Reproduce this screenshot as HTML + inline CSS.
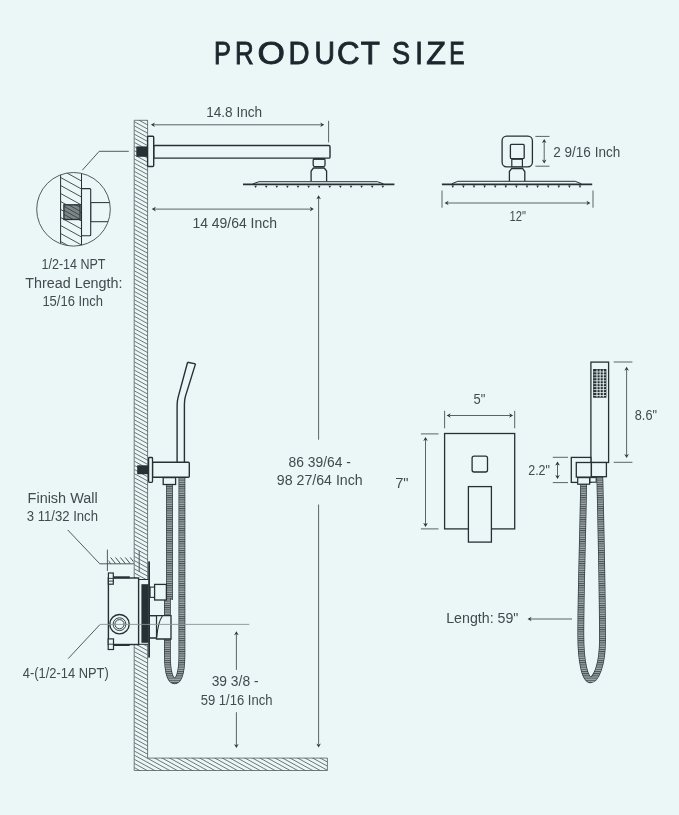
<!DOCTYPE html>
<html><head><meta charset="utf-8"><style>
html,body{margin:0;padding:0;background:#ebf6f6;}
svg{display:block;will-change:transform;}
text{font-family:"Liberation Sans",sans-serif;}
</style></head><body>
<svg width="679" height="815" viewBox="0 0 679 815">
<defs><pattern id="hosepat" patternUnits="userSpaceOnUse" width="10" height="2.2"><rect width="10" height="2.2" fill="#a3abad"/><rect y="0" width="10" height="1" fill="#465054"/></pattern><clipPath id="wallclip"><path d="M134.2,120.3H147.6V758.1H327.4V770.5H134.2Z"/></clipPath><clipPath id="circ"><circle cx="73.5" cy="209.3" r="36.8"/></clipPath><clipPath id="cwall"><rect x="60.6" y="160" width="20.9" height="100"/></clipPath><clipPath id="thr"><rect x="63.9" y="204.8" width="16.2" height="14.7"/></clipPath><clipPath id="fw"><rect x="108.5" y="557.6" width="25" height="6"/></clipPath></defs>
<rect width="679" height="815" fill="#ebf6f6"/>
<path d="M134.2,120.3H147.6V758.1H327.4V770.5H134.2Z" fill="#ebf6f6"/>
<path clip-path="url(#wallclip)" d="M134.3,9.96L327.4,116.16M134.3,14.10L327.4,120.30M134.3,18.24L327.4,124.44M134.3,22.38L327.4,128.58M134.3,26.52L327.4,132.72M134.3,30.66L327.4,136.86M134.3,34.80L327.4,141.00M134.3,38.94L327.4,145.14M134.3,43.08L327.4,149.28M134.3,47.22L327.4,153.42M134.3,51.36L327.4,157.56M134.3,55.50L327.4,161.70M134.3,59.64L327.4,165.84M134.3,63.78L327.4,169.98M134.3,67.92L327.4,174.12M134.3,72.06L327.4,178.26M134.3,76.20L327.4,182.40M134.3,80.34L327.4,186.54M134.3,84.48L327.4,190.68M134.3,88.62L327.4,194.82M134.3,92.76L327.4,198.96M134.3,96.90L327.4,203.10M134.3,101.04L327.4,207.24M134.3,105.18L327.4,211.38M134.3,109.32L327.4,215.52M134.3,113.46L327.4,219.66M134.3,117.60L327.4,223.80M134.3,121.74L327.4,227.94M134.3,125.88L327.4,232.08M134.3,130.02L327.4,236.22M134.3,134.16L327.4,240.36M134.3,138.29L327.4,244.50M134.3,142.43L327.4,248.64M134.3,146.57L327.4,252.78M134.3,150.71L327.4,256.92M134.3,154.85L327.4,261.06M134.3,158.99L327.4,265.20M134.3,163.13L327.4,269.34M134.3,167.27L327.4,273.48M134.3,171.41L327.4,277.62M134.3,175.55L327.4,281.76M134.3,179.69L327.4,285.90M134.3,183.83L327.4,290.04M134.3,187.97L327.4,294.18M134.3,192.11L327.4,298.32M134.3,196.25L327.4,302.46M134.3,200.39L327.4,306.60M134.3,204.53L327.4,310.74M134.3,208.67L327.4,314.88M134.3,212.81L327.4,319.02M134.3,216.95L327.4,323.16M134.3,221.09L327.4,327.30M134.3,225.23L327.4,331.44M134.3,229.37L327.4,335.58M134.3,233.51L327.4,339.72M134.3,237.65L327.4,343.86M134.3,241.79L327.4,348.00M134.3,245.93L327.4,352.14M134.3,250.07L327.4,356.28M134.3,254.21L327.4,360.42M134.3,258.35L327.4,364.56M134.3,262.49L327.4,368.70M134.3,266.63L327.4,372.84M134.3,270.77L327.4,376.98M134.3,274.91L327.4,381.12M134.3,279.05L327.4,385.26M134.3,283.19L327.4,389.40M134.3,287.33L327.4,393.54M134.3,291.47L327.4,397.68M134.3,295.61L327.4,401.82M134.3,299.75L327.4,405.96M134.3,303.89L327.4,410.10M134.3,308.03L327.4,414.24M134.3,312.17L327.4,418.38M134.3,316.31L327.4,422.52M134.3,320.45L327.4,426.66M134.3,324.59L327.4,430.80M134.3,328.73L327.4,434.94M134.3,332.87L327.4,439.08M134.3,337.01L327.4,443.22M134.3,341.15L327.4,447.36M134.3,345.29L327.4,451.50M134.3,349.43L327.4,455.64M134.3,353.57L327.4,459.78M134.3,357.71L327.4,463.92M134.3,361.85L327.4,468.06M134.3,365.99L327.4,472.20M134.3,370.13L327.4,476.34M134.3,374.27L327.4,480.48M134.3,378.41L327.4,484.62M134.3,382.55L327.4,488.76M134.3,386.69L327.4,492.90M134.3,390.83L327.4,497.04M134.3,394.97L327.4,501.18M134.3,399.11L327.4,505.32M134.3,403.25L327.4,509.46M134.3,407.39L327.4,513.60M134.3,411.53L327.4,517.74M134.3,415.67L327.4,521.88M134.3,419.81L327.4,526.02M134.3,423.95L327.4,530.16M134.3,428.09L327.4,534.30M134.3,432.23L327.4,538.44M134.3,436.37L327.4,542.58M134.3,440.51L327.4,546.72M134.3,444.65L327.4,550.86M134.3,448.79L327.4,555.00M134.3,452.93L327.4,559.14M134.3,457.07L327.4,563.28M134.3,461.21L327.4,567.42M134.3,465.35L327.4,571.56M134.3,469.49L327.4,575.70M134.3,473.63L327.4,579.84M134.3,477.77L327.4,583.98M134.3,481.91L327.4,588.12M134.3,486.05L327.4,592.26M134.3,490.19L327.4,596.40M134.3,494.33L327.4,600.54M134.3,498.47L327.4,604.68M134.3,502.61L327.4,608.82M134.3,506.75L327.4,612.96M134.3,510.89L327.4,617.10M134.3,515.03L327.4,621.24M134.3,519.17L327.4,625.38M134.3,523.31L327.4,629.52M134.3,527.45L327.4,633.66M134.3,531.59L327.4,637.80M134.3,535.73L327.4,641.94M134.3,539.87L327.4,646.08M134.3,544.01L327.4,650.22M134.3,548.15L327.4,654.36M134.3,552.29L327.4,658.50M134.3,556.43L327.4,662.64M134.3,560.57L327.4,666.78M134.3,564.71L327.4,670.92M134.3,568.85L327.4,675.06M134.3,572.99L327.4,679.20M134.3,577.13L327.4,683.34M134.3,581.27L327.4,687.48M134.3,585.41L327.4,691.62M134.3,589.55L327.4,695.76M134.3,593.69L327.4,699.90M134.3,597.83L327.4,704.04M134.3,601.97L327.4,708.18M134.3,606.11L327.4,712.32M134.3,610.25L327.4,716.46M134.3,614.39L327.4,720.60M134.3,618.53L327.4,724.74M134.3,622.67L327.4,728.88M134.3,626.81L327.4,733.02M134.3,630.95L327.4,737.16M134.3,635.09L327.4,741.30M134.3,639.23L327.4,745.44M134.3,643.37L327.4,749.58M134.3,647.51L327.4,753.72M134.3,651.65L327.4,757.86M134.3,655.79L327.4,762.00M134.3,659.93L327.4,766.14M134.3,664.07L327.4,770.28M134.3,668.21L327.4,774.42M134.3,672.35L327.4,778.56M134.3,676.49L327.4,782.70M134.3,680.63L327.4,786.84M134.3,684.77L327.4,790.98M134.3,688.91L327.4,795.12M134.3,693.05L327.4,799.26M134.3,697.19L327.4,803.40M134.3,701.33L327.4,807.54M134.3,705.47L327.4,811.68M134.3,709.61L327.4,815.82M134.3,713.75L327.4,819.96M134.3,717.89L327.4,824.10M134.3,722.03L327.4,828.24M134.3,726.17L327.4,832.38M134.3,730.31L327.4,836.52M134.3,734.45L327.4,840.66M134.3,738.59L327.4,844.80M134.3,742.73L327.4,848.94M134.3,746.87L327.4,853.08M134.3,751.01L327.4,857.22M134.3,755.15L327.4,861.36M134.3,759.29L327.4,865.50M134.3,763.43L327.4,869.64M134.3,767.57L327.4,873.78M134.3,771.71L327.4,877.92" stroke="#343d41" stroke-width="0.7" fill="none"/>
<path d="M134.2,120.3H147.6V758.1H327.4V770.5H134.2Z" fill="none" stroke="#4a5356" stroke-width="0.75"/>
<g fill="#1c262d" stroke="#1c262d" stroke-width="0.9"><text transform="translate(214.07,64.2) scale(0.828,1)" font-size="30.6">P</text><text transform="translate(235.12,64.2) scale(0.849,1)" font-size="30.6">R</text><text transform="translate(257.58,64.2) scale(1.151,1)" font-size="30.6">O</text><text transform="translate(288.46,64.2) scale(0.953,1)" font-size="30.6">D</text><text transform="translate(314.60,64.2) scale(0.927,1)" font-size="30.6">U</text><text transform="translate(337.07,64.2) scale(1.020,1)" font-size="30.6">C</text><text transform="translate(360.66,64.2) scale(1.024,1)" font-size="30.6">T</text><text transform="translate(392.06,64.2) scale(0.888,1)" font-size="30.6">S</text><text transform="translate(415.14,64.2) scale(0.898,1)" font-size="30.6">I</text><text transform="translate(426.33,64.2) scale(1.054,1)" font-size="30.6">Z</text><text transform="translate(449.16,64.2) scale(0.753,1)" font-size="30.6">E</text></g>
<rect x="136.3" y="146.4" width="11.1" height="10.4" fill="#263035"/>
<rect x="153.7" y="145.5" width="176.3" height="12.6" rx="1.2" fill="#ebf6f6" stroke="#263035" stroke-width="1.4"/>
<rect x="147.6" y="136.3" width="6.1" height="30.2" rx="1" fill="#ebf6f6" stroke="#263035" stroke-width="1.4"/>
<rect x="313.2" y="158.6" width="11.8" height="8" rx="1.5" fill="#ebf6f6" stroke="#263035" stroke-width="1.3"/>
<rect x="313.6" y="158.1" width="11" height="1.8" fill="#263035"/>
<path d="M311.1,181.2V171L313.5,168H324.2L326.6,171V181.2" fill="#ebf6f6" stroke="#263035" stroke-width="1.3"/>
<path d="M243,184.4H394.4" stroke="#263035" stroke-width="1.8"/><path d="M253,183.8L259,181.7H377.4L383.4,183.8" fill="none" stroke="#263035" stroke-width="1"/><path d="M254.30,185.70000000000002H256.90L255.60,188.0Z" fill="#263035"/><path d="M264.90,185.70000000000002H267.50L266.20,188.0Z" fill="#263035"/><path d="M275.50,185.70000000000002H278.10L276.80,188.0Z" fill="#263035"/><path d="M286.10,185.70000000000002H288.70L287.40,188.0Z" fill="#263035"/><path d="M296.70,185.70000000000002H299.30L298.00,188.0Z" fill="#263035"/><path d="M307.30,185.70000000000002H309.90L308.60,188.0Z" fill="#263035"/><path d="M317.90,185.70000000000002H320.50L319.20,188.0Z" fill="#263035"/><path d="M328.50,185.70000000000002H331.10L329.80,188.0Z" fill="#263035"/><path d="M339.10,185.70000000000002H341.70L340.40,188.0Z" fill="#263035"/><path d="M349.70,185.70000000000002H352.30L351.00,188.0Z" fill="#263035"/><path d="M360.30,185.70000000000002H362.90L361.60,188.0Z" fill="#263035"/><path d="M370.90,185.70000000000002H373.50L372.20,188.0Z" fill="#263035"/><path d="M381.50,185.70000000000002H384.10L382.80,188.0Z" fill="#263035"/>
<path d="M128.8,151.3H99.2L82.3,170.2" fill="none" stroke="#40494d" stroke-width="0.9"/>
<line x1="154" y1="124.8" x2="321.5" y2="124.8" stroke="#40494d" stroke-width="0.85"/>
<path d="M150.90,124.80L154.90,122.50L153.70,124.80L154.90,127.10Z" fill="#2a3337"/>
<path d="M324.20,124.80L320.20,127.10L321.40,124.80L320.20,122.50Z" fill="#2a3337"/>
<line x1="328.6" y1="120.8" x2="328.6" y2="142.4" stroke="#40494d" stroke-width="0.85"/>
<text x="206.2" y="117.1" font-size="13.8" fill="#424a4e" textLength="56.0" lengthAdjust="spacingAndGlyphs" >14.8 Inch</text>
<line x1="155" y1="209.1" x2="310.8" y2="209.1" stroke="#40494d" stroke-width="0.85"/>
<path d="M151.80,209.10L155.80,206.80L154.60,209.10L155.80,211.40Z" fill="#2a3337"/>
<path d="M313.80,209.10L309.80,211.40L311.00,209.10L309.80,206.80Z" fill="#2a3337"/>
<text x="192.4" y="227.7" font-size="13.8" fill="#424a4e" textLength="84.6" lengthAdjust="spacingAndGlyphs" >14 49/64 Inch</text>
<line x1="318.6" y1="198" x2="318.6" y2="439.7" stroke="#40494d" stroke-width="0.85"/>
<path d="M318.60,195.20L320.90,199.20L318.60,198.00L316.30,199.20Z" fill="#2a3337"/>
<line x1="318.6" y1="504.5" x2="318.6" y2="744.5" stroke="#40494d" stroke-width="0.85"/>
<path d="M318.60,747.50L316.30,743.50L318.60,744.70L320.90,743.50Z" fill="#2a3337"/>
<text x="288.6" y="466.5" font-size="13.8" fill="#424a4e" textLength="62.4" lengthAdjust="spacingAndGlyphs" >86 39/64 -</text>
<text x="276.8" y="485.1" font-size="13.8" fill="#424a4e" textLength="85.9" lengthAdjust="spacingAndGlyphs" >98 27/64 Inch</text>
<g clip-path="url(#circ)">
<path clip-path="url(#cwall)" d="M60.6,145.50L81.5,157.00M60.6,153.50L81.5,165.00M60.6,161.50L81.5,173.00M60.6,169.50L81.5,181.00M60.6,177.50L81.5,189.00M60.6,185.50L81.5,197.00M60.6,193.50L81.5,205.00M60.6,201.50L81.5,213.00M60.6,209.50L81.5,221.00M60.6,217.50L81.5,229.00M60.6,225.50L81.5,237.00M60.6,233.50L81.5,245.00M60.6,241.50L81.5,253.00M60.6,249.50L81.5,261.00M60.6,257.50L81.5,269.00" stroke="#343d41" stroke-width="0.9" fill="none"/>
<line x1="60.6" y1="165" x2="60.6" y2="255" stroke="#263035" stroke-width="1"/>
<line x1="81.5" y1="165" x2="81.5" y2="255" stroke="#263035" stroke-width="1"/>
<rect x="90.7" y="202.6" width="30" height="19.1" fill="#ebf6f6" stroke="#263035" stroke-width="1"/>
<rect x="81.5" y="188.6" width="9.2" height="47.1" rx="1" fill="#ebf6f6" stroke="#263035" stroke-width="1.1"/>
<rect x="63.9" y="204.8" width="16.2" height="14.7" fill="#7d8689" stroke="#263035" stroke-width="1.3"/>
<path clip-path="url(#thr)" d="M60.6,184.50L81.5,196.00M60.6,188.50L81.5,200.00M60.6,192.50L81.5,204.00M60.6,196.50L81.5,208.00M60.6,200.50L81.5,212.00M60.6,204.50L81.5,216.00M60.6,208.50L81.5,220.00M60.6,212.50L81.5,224.00M60.6,216.50L81.5,228.00M60.6,220.50L81.5,232.00M60.6,224.50L81.5,236.00M60.6,228.50L81.5,240.00" stroke="#30393d" stroke-width="0.8" fill="none"/>
</g>
<circle cx="73.5" cy="209.3" r="36.8" fill="none" stroke="#40494d" stroke-width="0.9"/>
<text x="41.5" y="269.4" font-size="13.8" fill="#424a4e" textLength="64.0" lengthAdjust="spacingAndGlyphs" >1/2-14 NPT</text>
<text x="25.3" y="288" font-size="13.8" fill="#424a4e" textLength="97.2" lengthAdjust="spacingAndGlyphs" >Thread Length:</text>
<text x="42.4" y="305.7" font-size="13.8" fill="#424a4e" textLength="60.6" lengthAdjust="spacingAndGlyphs" >15/16 Inch</text>
<path d="M187.6,362.2L178.1,397.4Q177.1,401 177.1,405.7V462.2" fill="none" stroke="#263035" stroke-width="1.4"/>
<path d="M195.5,363.9L185.4,396.4Q184.4,400 184.4,404.6V462.2" fill="none" stroke="#263035" stroke-width="1.4"/>
<path d="M187.6,362.2L195.5,363.9" stroke="#263035" stroke-width="1.4"/>
<path d="M169.5,484V600" stroke="#2f393d" stroke-width="6.8" fill="none"/><path d="M169.5,484V600" stroke="url(#hosepat)" stroke-width="5.4" fill="none"/>
<path d="M167.4,598V655C167.4,672 170,680.8 174.6,680.8C179.2,680.8 181.9,672 181.9,655V477" stroke="#2f393d" stroke-width="6.8" fill="none"/><path d="M167.4,598V655C167.4,672 170,680.8 174.6,680.8C179.2,680.8 181.9,672 181.9,655V477" stroke="url(#hosepat)" stroke-width="5.4" fill="none"/>
<rect x="137.2" y="465.3" width="11.4" height="8.9" fill="#263035"/>
<rect x="152.5" y="462.2" width="36.8" height="15.1" rx="1" fill="#ebf6f6" stroke="#263035" stroke-width="1.4"/>
<rect x="148.6" y="457.5" width="3.9" height="24.8" rx="0.8" fill="#ebf6f6" stroke="#263035" stroke-width="1.3"/>
<rect x="163.2" y="477.6" width="12.4" height="6.9" fill="#ebf6f6" stroke="#263035" stroke-width="1.3"/>
<rect x="133.8" y="579.5" width="15" height="64.8" fill="#ebf6f6"/>
<line x1="133.8" y1="579.5" x2="148.3" y2="579.5" stroke="#263035" stroke-width="1"/>
<line x1="133.8" y1="644.3" x2="148.3" y2="644.3" stroke="#263035" stroke-width="1"/>
<rect x="108.4" y="578" width="30.2" height="66.5" fill="#ebf6f6" stroke="#263035" stroke-width="1.4"/>
<line x1="113.3" y1="577.3" x2="129.8" y2="577.3" stroke="#263035" stroke-width="2"/>
<line x1="113.5" y1="645" x2="129.7" y2="645" stroke="#263035" stroke-width="2"/>
<rect x="108.4" y="573" width="4.9" height="11.2" fill="#ebf6f6" stroke="#263035" stroke-width="1.2"/>
<line x1="108.4" y1="578.4" x2="113.3" y2="578.4" stroke="#263035" stroke-width="0.9"/>
<line x1="108.4" y1="581.1" x2="113.3" y2="581.1" stroke="#263035" stroke-width="0.9"/>
<rect x="108.2" y="638.9" width="5.3" height="10.6" fill="#ebf6f6" stroke="#263035" stroke-width="1.2"/>
<line x1="108.2" y1="644.2" x2="113.5" y2="644.2" stroke="#263035" stroke-width="0.9"/>
<circle cx="119.5" cy="624.2" r="9.7" fill="#ebf6f6" stroke="#263035" stroke-width="1.4"/>
<circle cx="119.5" cy="624.2" r="6.4" fill="none" stroke="#263035" stroke-width="0.9"/>
<circle cx="119.5" cy="624.2" r="4.6" fill="none" stroke="#263035" stroke-width="0.9"/>
<rect x="141.4" y="584.2" width="7.2" height="58.6" fill="#263035"/>
<rect x="148.2" y="561.4" width="1.8" height="96.2" fill="#263035"/>
<rect x="150.1" y="587.1" width="4.7" height="10.3" fill="#ebf6f6" stroke="#263035" stroke-width="1.1"/>
<rect x="154.6" y="584.4" width="11.8" height="15.6" fill="#ebf6f6" stroke="#263035" stroke-width="1.3"/>
<path d="M150,615.7H162.5Q164,615.5 171,615.7V639H156.5V638H150" fill="#ebf6f6" stroke="#263035" stroke-width="1.3"/>
<path d="M150.3,615.7H156.5V638" fill="none" stroke="#263035" stroke-width="1.2"/>
<path d="M162.5,615.7Q158,622 156.8,637" fill="none" stroke="#263035" stroke-width="1.1"/>
<line x1="99.6" y1="563.8" x2="134" y2="563.8" stroke="#40494d" stroke-width="0.9"/>
<line x1="107.4" y1="549.6" x2="107.4" y2="571" stroke="#40494d" stroke-width="0.9"/>
<line x1="139.2" y1="550.6" x2="139.2" y2="571.8" stroke="#40494d" stroke-width="0.9"/>
<path clip-path="url(#fw)" d="M100,501.50L140,551.50M100,507.60L140,557.60M100,513.70L140,563.70M100,519.80L140,569.80M100,525.90L140,575.90M100,532.00L140,582.00M100,538.10L140,588.10M100,544.20L140,594.20M100,550.30L140,600.30M100,556.40L140,606.40M100,562.50L140,612.50M100,568.60L140,618.60" stroke="#343d41" stroke-width="0.9" fill="none"/>
<path d="M67.7,529.9L99.6,563.6" stroke="#40494d" stroke-width="0.9"/>
<line x1="99.6" y1="624.4" x2="249.3" y2="624.4" stroke="#8b9396" stroke-width="0.9"/>
<path d="M68.2,658.6L99.6,624.9" stroke="#40494d" stroke-width="0.9"/>
<text x="27.6" y="502.7" font-size="13.8" fill="#424a4e" textLength="70.1" lengthAdjust="spacingAndGlyphs" >Finish Wall</text>
<text x="26.7" y="520.8" font-size="13.8" fill="#424a4e" textLength="71.3" lengthAdjust="spacingAndGlyphs" >3 11/32 Inch</text>
<text x="22.8" y="678" font-size="13.8" fill="#424a4e" textLength="85.9" lengthAdjust="spacingAndGlyphs" >4-(1/2-14 NPT)</text>
<line x1="236.4" y1="634.2" x2="236.4" y2="669.9" stroke="#40494d" stroke-width="0.85"/>
<path d="M236.40,631.20L238.70,635.20L236.40,634.00L234.10,635.20Z" fill="#2a3337"/>
<line x1="236.4" y1="712.2" x2="236.4" y2="745" stroke="#40494d" stroke-width="0.85"/>
<path d="M236.40,748.10L234.10,744.10L236.40,745.30L238.70,744.10Z" fill="#2a3337"/>
<text x="211.7" y="685.9" font-size="13.8" fill="#424a4e" textLength="46.8" lengthAdjust="spacingAndGlyphs" >39 3/8 -</text>
<text x="200.7" y="704.5" font-size="13.8" fill="#424a4e" textLength="71.8" lengthAdjust="spacingAndGlyphs" >59 1/16 Inch</text>
<path d="M509.4,181V171.5L511.5,168.6H522.7L524.8,171.5V181" fill="#ebf6f6" stroke="#263035" stroke-width="1.3"/>
<rect x="502.1" y="136.2" width="30.3" height="30.6" rx="4.5" fill="#ebf6f6" stroke="#263035" stroke-width="1.3"/>
<rect x="511.8" y="159.2" width="10.6" height="7.6" fill="#ebf6f6" stroke="#263035" stroke-width="1.2"/>
<rect x="510.4" y="144.4" width="13.8" height="14.2" rx="1" fill="#ebf6f6" stroke="#263035" stroke-width="1.3"/>
<path d="M441.9,184.3H592.2" stroke="#263035" stroke-width="1.8"/><path d="M451.9,183.70000000000002L457.9,181.3H575.2L581.2,183.70000000000002" fill="none" stroke="#263035" stroke-width="1"/><path d="M451.50,185.60000000000002H454.10L452.80,187.9Z" fill="#263035"/><path d="M462.10,185.60000000000002H464.70L463.40,187.9Z" fill="#263035"/><path d="M472.70,185.60000000000002H475.30L474.00,187.9Z" fill="#263035"/><path d="M483.30,185.60000000000002H485.90L484.60,187.9Z" fill="#263035"/><path d="M493.90,185.60000000000002H496.50L495.20,187.9Z" fill="#263035"/><path d="M504.50,185.60000000000002H507.10L505.80,187.9Z" fill="#263035"/><path d="M515.10,185.60000000000002H517.70L516.40,187.9Z" fill="#263035"/><path d="M525.70,185.60000000000002H528.30L527.00,187.9Z" fill="#263035"/><path d="M536.30,185.60000000000002H538.90L537.60,187.9Z" fill="#263035"/><path d="M546.90,185.60000000000002H549.50L548.20,187.9Z" fill="#263035"/><path d="M557.50,185.60000000000002H560.10L558.80,187.9Z" fill="#263035"/><path d="M568.10,185.60000000000002H570.70L569.40,187.9Z" fill="#263035"/><path d="M578.70,185.60000000000002H581.30L580.00,187.9Z" fill="#263035"/>
<line x1="442" y1="190.5" x2="442" y2="207.7" stroke="#40494d" stroke-width="0.85"/>
<line x1="593" y1="190.5" x2="593" y2="207.7" stroke="#40494d" stroke-width="0.85"/>
<line x1="447.6" y1="203" x2="587.4" y2="203" stroke="#40494d" stroke-width="0.85"/><path d="M444.60,203.00L448.60,200.70L447.40,203.00L448.60,205.30Z" fill="#2a3337"/><path d="M590.40,203.00L586.40,205.30L587.60,203.00L586.40,200.70Z" fill="#2a3337"/>
<text x="509.5" y="221" font-size="13.8" fill="#424a4e" textLength="16.5" lengthAdjust="spacingAndGlyphs" >12"</text>
<line x1="535.4" y1="136.4" x2="549.5" y2="136.4" stroke="#40494d" stroke-width="0.85"/>
<line x1="535.4" y1="166.2" x2="549.5" y2="166.2" stroke="#40494d" stroke-width="0.85"/>
<line x1="544.2" y1="142" x2="544.2" y2="160.5" stroke="#40494d" stroke-width="0.85"/><path d="M544.20,139.00L546.50,143.00L544.20,141.80L541.90,143.00Z" fill="#2a3337"/><path d="M544.20,163.50L541.90,159.50L544.20,160.70L546.50,159.50Z" fill="#2a3337"/>
<text x="553.3" y="156.9" font-size="13.8" fill="#424a4e" textLength="66.9" lengthAdjust="spacingAndGlyphs" >2 9/16 Inch</text>
<rect x="444.6" y="433.5" width="70.1" height="95.4" fill="#ebf6f6" stroke="#263035" stroke-width="1.3"/>
<rect x="472.1" y="456.1" width="15.4" height="15.9" rx="2" fill="#ebf6f6" stroke="#263035" stroke-width="1.3"/>
<rect x="468.4" y="486.6" width="23" height="55.5" fill="#ebf6f6" stroke="#263035" stroke-width="1.3"/>
<line x1="444.6" y1="410.8" x2="444.6" y2="428.3" stroke="#40494d" stroke-width="0.85"/>
<line x1="514.7" y1="410.8" x2="514.7" y2="428.3" stroke="#40494d" stroke-width="0.85"/>
<line x1="449.7" y1="415.5" x2="510.1" y2="415.5" stroke="#40494d" stroke-width="0.85"/><path d="M446.70,415.50L450.70,413.20L449.50,415.50L450.70,417.80Z" fill="#2a3337"/><path d="M513.10,415.50L509.10,417.80L510.30,415.50L509.10,413.20Z" fill="#2a3337"/>
<text x="473.5" y="404" font-size="13.8" fill="#424a4e" textLength="11.8" lengthAdjust="spacingAndGlyphs" >5"</text>
<line x1="420.9" y1="433.9" x2="438.5" y2="433.9" stroke="#40494d" stroke-width="0.85"/>
<line x1="420.9" y1="528.9" x2="438.5" y2="528.9" stroke="#40494d" stroke-width="0.85"/>
<line x1="425.5" y1="440" x2="425.5" y2="523.9" stroke="#40494d" stroke-width="0.85"/><path d="M425.50,437.00L427.80,441.00L425.50,439.80L423.20,441.00Z" fill="#2a3337"/><path d="M425.50,526.90L423.20,522.90L425.50,524.10L427.80,522.90Z" fill="#2a3337"/>
<text x="395.2" y="487.7" font-size="13.8" fill="#424a4e" textLength="13.4" lengthAdjust="spacingAndGlyphs" >7"</text>
<path d="M583.6,484C583,530 580.8,590 580.8,635C580.8,662 585,679.8 590.5,679.8C596,679.8 602.5,665 602.5,640C602.5,590 601,530 599.8,476" stroke="#2f393d" stroke-width="6.8" fill="none"/><path d="M583.6,484C583,530 580.8,590 580.8,635C580.8,662 585,679.8 590.5,679.8C596,679.8 602.5,665 602.5,640C602.5,590 601,530 599.8,476" stroke="url(#hosepat)" stroke-width="5.4" fill="none"/>
<rect x="590.9" y="362.1" width="17.7" height="100.4" fill="#ebf6f6" stroke="#263035" stroke-width="1.3"/>
<rect x="593.1" y="369" width="13.3" height="28.7" fill="#263035"/>
<line x1="597.0" y1="369.5" x2="597.0" y2="397.2" stroke="#e8f2f2" stroke-width="1.0"/>
<line x1="600.15" y1="369.5" x2="600.15" y2="397.2" stroke="#e8f2f2" stroke-width="1.0"/>
<line x1="603.3" y1="369.5" x2="603.3" y2="397.2" stroke="#e8f2f2" stroke-width="1.0"/>
<line x1="593.5" y1="371.9" x2="606" y2="371.9" stroke="#e8f2f2" stroke-width="0.8"/>
<line x1="593.5" y1="374.85" x2="606" y2="374.85" stroke="#e8f2f2" stroke-width="0.8"/>
<line x1="593.5" y1="377.8" x2="606" y2="377.8" stroke="#e8f2f2" stroke-width="0.8"/>
<line x1="593.5" y1="380.75" x2="606" y2="380.75" stroke="#e8f2f2" stroke-width="0.8"/>
<line x1="593.5" y1="383.7" x2="606" y2="383.7" stroke="#e8f2f2" stroke-width="0.8"/>
<line x1="593.5" y1="386.65" x2="606" y2="386.65" stroke="#e8f2f2" stroke-width="0.8"/>
<line x1="593.5" y1="389.6" x2="606" y2="389.6" stroke="#e8f2f2" stroke-width="0.8"/>
<line x1="593.5" y1="392.55" x2="606" y2="392.55" stroke="#e8f2f2" stroke-width="0.8"/>
<line x1="593.5" y1="395.5" x2="606" y2="395.5" stroke="#e8f2f2" stroke-width="0.8"/>
<rect x="571.3" y="457.4" width="19.6" height="25" fill="#ebf6f6" stroke="#263035" stroke-width="1.3"/>
<rect x="576.3" y="462.5" width="15.1" height="14.6" fill="#ebf6f6" stroke="#263035" stroke-width="1.3"/>
<rect x="591.4" y="462.5" width="15" height="14.2" fill="#ebf6f6" stroke="#263035" stroke-width="1.3"/>
<rect x="577.7" y="477.6" width="11.9" height="6.6" fill="#ebf6f6" stroke="#263035" stroke-width="1.2"/>
<rect x="590" y="477.6" width="6.2" height="4.6" fill="#ebf6f6" stroke="#263035" stroke-width="1.1"/>
<line x1="613.7" y1="362" x2="632.4" y2="362" stroke="#40494d" stroke-width="0.85"/>
<line x1="613.7" y1="462.3" x2="632.4" y2="462.3" stroke="#40494d" stroke-width="0.85"/>
<line x1="626.6" y1="369.7" x2="626.6" y2="455" stroke="#40494d" stroke-width="0.85"/><path d="M626.60,366.70L628.90,370.70L626.60,369.50L624.30,370.70Z" fill="#2a3337"/><path d="M626.60,458.00L624.30,454.00L626.60,455.20L628.90,454.00Z" fill="#2a3337"/>
<text x="634.8" y="420.1" font-size="13.8" fill="#424a4e" textLength="22.2" lengthAdjust="spacingAndGlyphs" >8.6"</text>
<line x1="552.8" y1="457.3" x2="568" y2="457.3" stroke="#40494d" stroke-width="0.85"/>
<line x1="552.8" y1="482.6" x2="568" y2="482.6" stroke="#40494d" stroke-width="0.85"/>
<line x1="557.5" y1="464.6" x2="557.5" y2="476.1" stroke="#40494d" stroke-width="0.85"/><path d="M557.50,461.60L559.80,465.60L557.50,464.40L555.20,465.60Z" fill="#2a3337"/><path d="M557.50,479.10L555.20,475.10L557.50,476.30L559.80,475.10Z" fill="#2a3337"/>
<text x="528.2" y="474.9" font-size="13.8" fill="#424a4e" textLength="21.8" lengthAdjust="spacingAndGlyphs" >2.2"</text>
<line x1="530.6" y1="619" x2="572" y2="619" stroke="#40494d" stroke-width="0.85"/>
<path d="M527.60,619.00L531.60,616.70L530.40,619.00L531.60,621.30Z" fill="#2a3337"/>
<text x="446.2" y="623.1" font-size="13.8" fill="#424a4e" textLength="72.2" lengthAdjust="spacingAndGlyphs" >Length: 59"</text>
</svg></body></html>
